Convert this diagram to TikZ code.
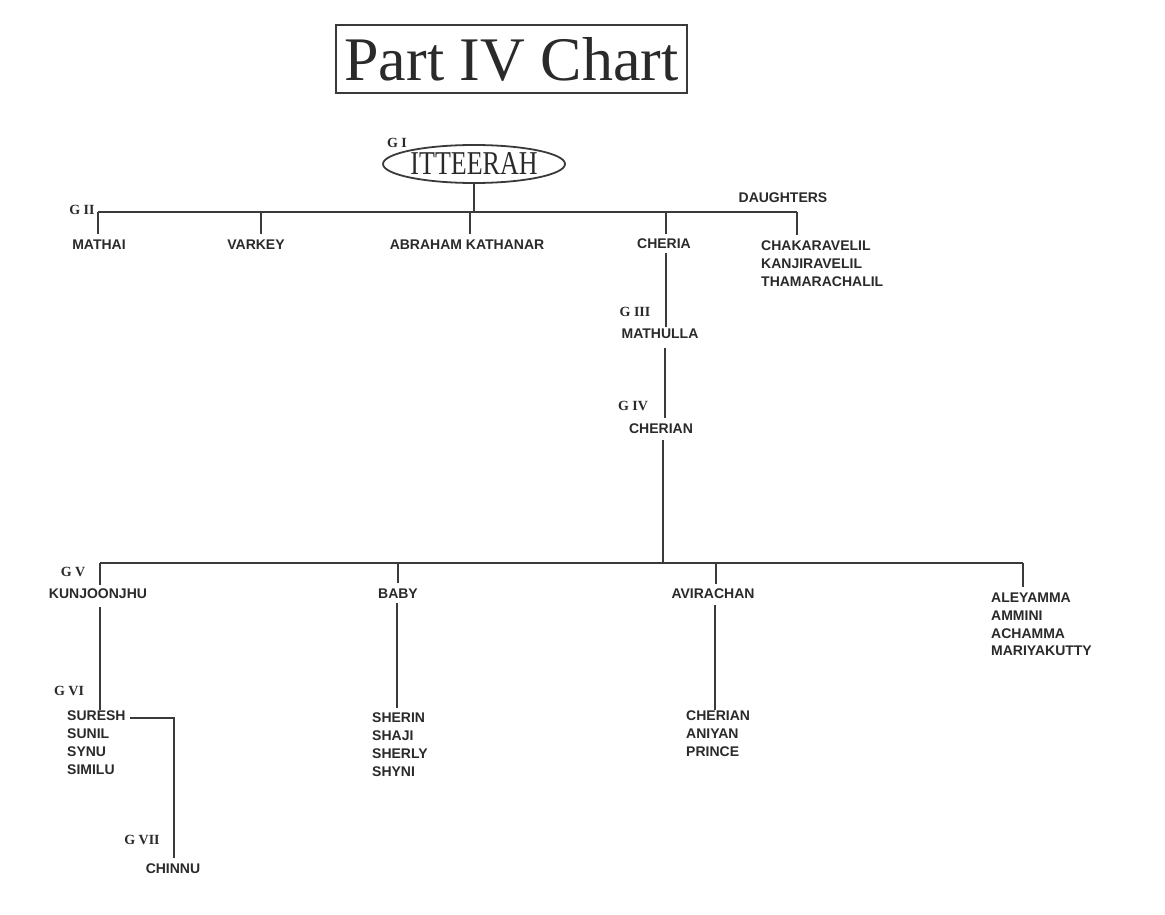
\documentclass[tikz,border=0pt]{standalone}
\usepackage{fontspec}
\setmainfont{Liberation Serif}
\newfontfamily\labfont{Liberation Sans}
\usetikzlibrary{shapes.geometric}
\definecolor{ink}{HTML}{2A2A2A}
\definecolor{linec}{HTML}{3A3A3A}
\tikzset{
  person/.style={inner sep=0pt, text=ink, font=\labfont\bfseries\fontsize{14}{17.7}\selectfont, anchor=base},
  plist/.style={inner sep=0pt, text=ink, font=\labfont\bfseries\fontsize{14}{17.7}\selectfont, anchor=north west, align=left},
  gen/.style={inner sep=0pt, text=ink, font=\bfseries\fontsize{14}{16}\selectfont, anchor=base},
  conn/.style={draw=linec, line width=1.8pt},
}
\begin{document}
\begin{tikzpicture}[x=1pt,y=-1pt]
\useasboundingbox (0,0) rectangle (1165,915);
\fill[white] (0,0) rectangle (1165,915);

% title
\node[draw=linec, line width=1.5pt, minimum width=351pt, minimum height=68pt, inner sep=0pt,
      text=ink, font=\fontsize{62}{62}\selectfont] (title) at (511.5,59) {\raisebox{-3pt}{Part IV Chart}};

% G I
\node[ellipse, draw=linec, line width=1.8pt, minimum width=182pt, minimum height=38pt, inner sep=0pt,
      text=ink, font=\fontsize{26}{26}\selectfont] (itt) at (474,164) {\raisebox{-1pt}{\scalebox{1}[1.28]{ITTEERAH}}};
\node[gen] (g1) at (397,148) {G I};

% G II
\node[gen] (g2) at (82,214) {G II};
\coordinate (b2L) at (98,212);
\coordinate (b2M) at (474,212);
\coordinate (b2R) at (797,212);
\node[person] (mathai) at (99,249) {MATHAI};
\node[person] (varkey) at (256,249) {VARKEY};
\node[person] (abraham) at (467,249) {ABRAHAM KATHANAR};
\node[person] (cheria) at (664,248) {CHERIA};
\node[person] (daughters) at (783,203) {DAUGHTERS};
\node[plist] (dlist) at (761,241) {CHAKARAVELIL\\KANJIRAVELIL\\THAMARACHALIL};

\draw[conn] (itt.south) -- (b2M);
\draw[conn] (b2L) -- (b2R);
\draw[conn] (b2L) -- (98,234);
\draw[conn] (261,212) -- (261,234);
\draw[conn] (470,212) -- (470,234);
\draw[conn] (666,212) -- (666,234);
\draw[conn] (b2R) -- (797,235);

% G III
\node[gen] (g3) at (635,316) {G III};
\node[person] (mathulla) at (660,338) {MATHULLA};
\draw[conn] (666,253) -- (666,327);

% G IV
\node[gen] (g4) at (633,410) {G IV};
\node[person] (cherian) at (661,433) {CHERIAN};
\draw[conn] (665,348) -- (665,418);

% G V
\coordinate (b5L) at (100,563);
\coordinate (b5R) at (1023,563);
\draw[conn] (663,440) -- (663,563);
\draw[conn] (b5L) -- (b5R);
\node[gen] (g5) at (73,576) {G V};
\node[person] (kunj) at (98,598) {KUNJOONJHU};
\node[person] (baby) at (398,598) {BABY};
\node[person] (avir) at (713,598) {AVIRACHAN};
\node[plist] (alist) at (991,593) {ALEYAMMA\\AMMINI\\ACHAMMA\\MARIYAKUTTY};
\draw[conn] (b5L) -- (100,585);
\draw[conn] (398,563) -- (398,583);
\draw[conn] (716,563) -- (716,584);
\draw[conn] (b5R) -- (1023,587);

% G VI
\node[gen] (g6) at (69,695) {G VI};
\node[plist] (slist) at (67,711) {SURESH\\SUNIL\\SYNU\\SIMILU};
\node[plist] (shlist) at (372,713) {SHERIN\\SHAJI\\SHERLY\\SHYNI};
\node[plist] (clist) at (686,711) {CHERIAN\\ANIYAN\\PRINCE};
\draw[conn] (100,607) -- (100,710);
\draw[conn] (397,603) -- (397,708);
\draw[conn] (715,605) -- (715,710);

% G VII
\node[gen] (g7) at (142,844) {G VII};
\node[person] (chinnu) at (173,873) {CHINNU};
\draw[conn] (130,718) -- (174,718) -- (174,858);
\end{tikzpicture}
\end{document}
